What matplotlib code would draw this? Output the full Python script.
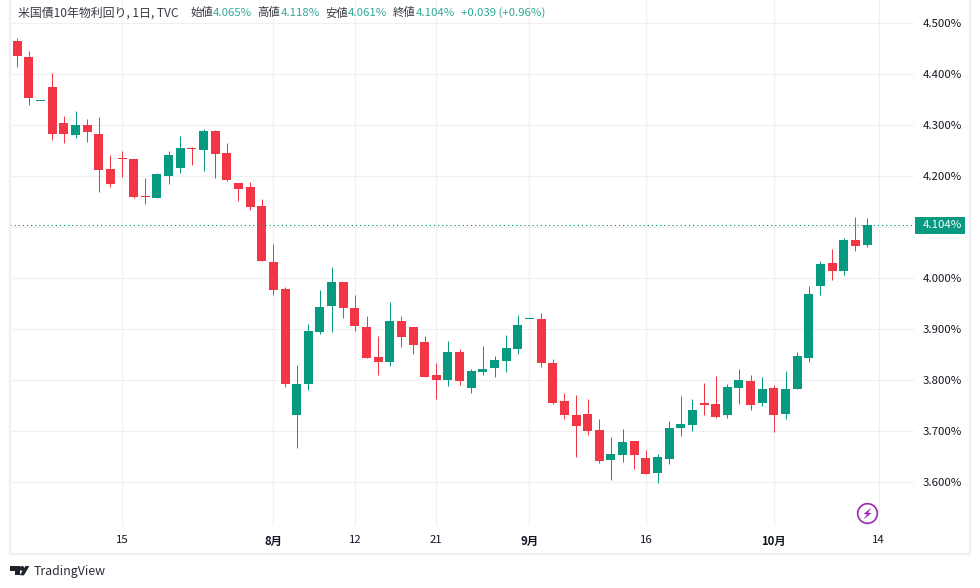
import matplotlib
matplotlib.use('Agg')
import matplotlib.pyplot as plt
from matplotlib.patches import Circle, Polygon

plt.rcParams['font.family'] = ['Noto Sans CJK JP', 'DejaVu Sans']

# ローソク足のデータ (%)
opens = [4.465, 4.434, 4.347, 4.375, 4.305, 4.280, 4.301, 4.283, 4.214, 4.236,
         4.234, 4.161, 4.158, 4.201, 4.217, 4.256, 4.252, 4.289, 4.246, 4.187,
         4.179, 4.142, 4.032, 3.979, 3.731, 3.793, 3.895, 3.946, 3.993, 3.942,
         3.905, 3.846, 3.836, 3.916, 3.905, 3.875, 3.810, 3.801, 3.855, 3.784,
         3.817, 3.825, 3.838, 3.862, 3.920, 3.920, 3.834, 3.759, 3.732, 3.734,
         3.703, 3.644, 3.654, 3.681, 3.648, 3.619, 3.646, 3.707, 3.713, 3.755,
         3.754, 3.731, 3.785, 3.799, 3.756, 3.785, 3.733, 3.782, 3.844, 3.985,
         4.030, 4.015, 4.075, 4.065]
highs = [4.471, 4.446, 4.348, 4.403, 4.318, 4.328, 4.312, 4.316, 4.242, 4.250,
         4.234, 4.197, 4.206, 4.250, 4.279, 4.257, 4.293, 4.291, 4.265, 4.187,
         4.189, 4.156, 4.067, 3.983, 3.830, 3.910, 3.977, 4.022, 3.993, 3.967,
         3.926, 3.887, 3.954, 3.926, 3.905, 3.887, 3.834, 3.877, 3.861, 3.822,
         3.867, 3.848, 3.889, 3.928, 3.921, 3.932, 3.842, 3.775, 3.771, 3.763,
         3.724, 3.689, 3.705, 3.681, 3.663, 3.655, 3.720, 3.769, 3.763, 3.795,
         3.808, 3.793, 3.822, 3.810, 3.806, 3.791, 3.818, 3.855, 3.985, 4.034,
         4.057, 4.079, 4.120, 4.118]
lows = [4.415, 4.340, 4.347, 4.272, 4.266, 4.276, 4.268, 4.170, 4.180, 4.199,
        4.158, 4.146, 4.158, 4.185, 4.207, 4.223, 4.211, 4.197, 4.191, 4.152,
        4.133, 4.033, 3.968, 3.787, 3.668, 3.780, 3.891, 3.895, 3.923, 3.897,
        3.844, 3.811, 3.829, 3.866, 3.852, 3.807, 3.764, 3.789, 3.791, 3.776,
        3.811, 3.807, 3.817, 3.852, 3.920, 3.827, 3.754, 3.725, 3.650, 3.693,
        3.638, 3.605, 3.640, 3.627, 3.617, 3.599, 3.635, 3.691, 3.701, 3.731,
        3.727, 3.727, 3.754, 3.742, 3.750, 3.699, 3.725, 3.782, 3.835, 3.968,
        3.997, 4.007, 4.054, 4.061]
closes = [4.435, 4.354, 4.348, 4.282, 4.282, 4.301, 4.287, 4.213, 4.185, 4.233,
          4.160, 4.159, 4.205, 4.242, 4.255, 4.254, 4.289, 4.244, 4.193, 4.176,
          4.140, 4.033, 3.978, 3.793, 3.793, 3.897, 3.944, 3.993, 3.942, 3.907,
          3.844, 3.836, 3.916, 3.884, 3.870, 3.807, 3.801, 3.855, 3.799, 3.818,
          3.822, 3.840, 3.863, 3.908, 3.921, 3.833, 3.756, 3.731, 3.711, 3.701,
          3.642, 3.655, 3.679, 3.654, 3.617, 3.650, 3.706, 3.714, 3.742, 3.752,
          3.729, 3.787, 3.801, 3.752, 3.783, 3.731, 3.783, 3.848, 3.969, 4.028,
          4.015, 4.075, 4.064, 4.104]

y_ticks = [3.6, 3.7, 3.8, 3.9, 4.0, 4.1, 4.2, 4.3, 4.4, 4.5]
x_ticks = [9, 22, 29, 36, 44, 54, 65, 74]
x_labels = ['15', '8月', '12', '21', '9月', '16', '10月', '14']
bold_labels = ['8月', '9月', '10月']
last_price = 4.104

UP = '#089981'
DOWN = '#f23645'
GRID = '#f0f0f3'
TEXT = '#131722'
BORDER = '#eeeef4'

W, H = 980, 588
fig = plt.figure(figsize=(W / 100, H / 100), dpi=100, facecolor='white')

# チャート本体 (x: 10-914px, y: 0-526px)
ax = fig.add_axes([10 / W, 1 - 526 / H, 904 / W, 526 / H])
ax.set_xlim((10 - 17.3) / 11.64, (914 - 17.3) / 11.64)
ax.set_ylim(4 + (278.3 - 526) / 510, 4 + 278.3 / 510)
for s in ax.spines.values():
    s.set_visible(False)
ax.set_axisbelow(True)
ax.grid(True, color=GRID, linewidth=0.9)

# ローソク足
for i in range(len(opens)):
    col = UP if closes[i] >= opens[i] else DOWN
    wick = ax.vlines(i, lows[i], highs[i], color=col, linewidth=0.72, zorder=3)
    wick.set_snap(True)
    bottom = min(opens[i], closes[i])
    height = max(abs(closes[i] - opens[i]), 0.002)
    ax.bar(i, height, bottom=bottom, width=0.77, color=col, linewidth=0, zorder=4)

# 現在値の点線
ax.axhline(last_price, color=UP, linewidth=0.8, linestyle=(0, (1.1, 2.6)), zorder=5)

ax.yaxis.tick_right()
ax.set_yticks(y_ticks)
# 4.100% は現在値ラベルに隠れる
ax.set_yticklabels(['' if v == 4.1 else '%.3f%%' % v for v in y_ticks], color=TEXT, fontsize=8.2)
ax.set_xticks(x_ticks)
ax.set_xticklabels(x_labels, color=TEXT, fontsize=8.2)
for lab in ax.get_xticklabels():
    if lab.get_text() in bold_labels:
        lab.set_fontweight('bold')
ax.tick_params(axis='both', length=0)
ax.tick_params(axis='y', pad=6.2)
ax.tick_params(axis='x', pad=6.5)

# 枠・テキスト・アイコン用のオーバーレイ (ピクセル座標)
ov = fig.add_axes([0, 0, 1, 1], facecolor='none')
ov.set_xlim(0, W)
ov.set_ylim(H, 0)
ov.axis('off')

ov.plot([10, 10, 970, 970], [0, 553.5, 553.5, 0], color=BORDER, linewidth=1.6, zorder=1)

# ヘッダー
header = [(18, '米国債10年物利回り, 1日, TVC', TEXT, 8.6),
          (190, '始値', TEXT, 8.2), (213, '4.065%', UP, 8.2),
          (257, '高値', TEXT, 8.2), (281, '4.118%', UP, 8.2),
          (325, '安値', TEXT, 8.2), (348, '4.061%', UP, 8.2),
          (393, '終値', TEXT, 8.2), (416, '4.104%', UP, 8.2),
          (461, '+0.039 (+0.96%)', UP, 8.2)]
for x, s, c, fs in header:
    ov.text(x, 12.8, s, color=c, fontsize=fs, va='center', ha='left', alpha=0.85)

# 現在値ラベル
ov.add_patch(Polygon([(915, 217), (965, 217), (965, 233.7), (915, 233.7)],
                     closed=True, facecolor=UP, edgecolor='none', zorder=3))
ov.text(923, 225.5, '4.104%', color='white', fontsize=8.2, va='center', ha='left', zorder=4)

# 稲妻アイコン
ov.add_patch(Circle((867.5, 513.5), 9.8, facecolor='white', edgecolor='#9c27b0', linewidth=1.2, zorder=3))
ov.add_patch(Polygon([(871.5, 507.5), (863.5, 514), (867, 514.2), (863.5, 519.5), (871.5, 513), (868, 512.8)],
                     closed=True, facecolor='#9c27b0', edgecolor='none', zorder=4))

# TradingViewロゴ
ov.add_patch(Polygon([(10, 566), (19.5, 566), (19.5, 575.3), (15, 575.3), (15, 571), (10, 571)],
                     closed=True, facecolor='#1e222d', edgecolor='none'))
ov.add_patch(Circle((22, 568.4), 2.4, facecolor='#1e222d', edgecolor='none'))
ov.add_patch(Polygon([(24, 575.3), (29.3, 566), (25.5, 566), (19.8, 575.3)],
                     closed=True, facecolor='#1e222d', edgecolor='none'))
ov.text(34, 571.5, 'TradingView', color='#2a2e39', fontsize=8.9, va='center', ha='left')

fig.savefig('out.png', dpi=100, facecolor='white')
